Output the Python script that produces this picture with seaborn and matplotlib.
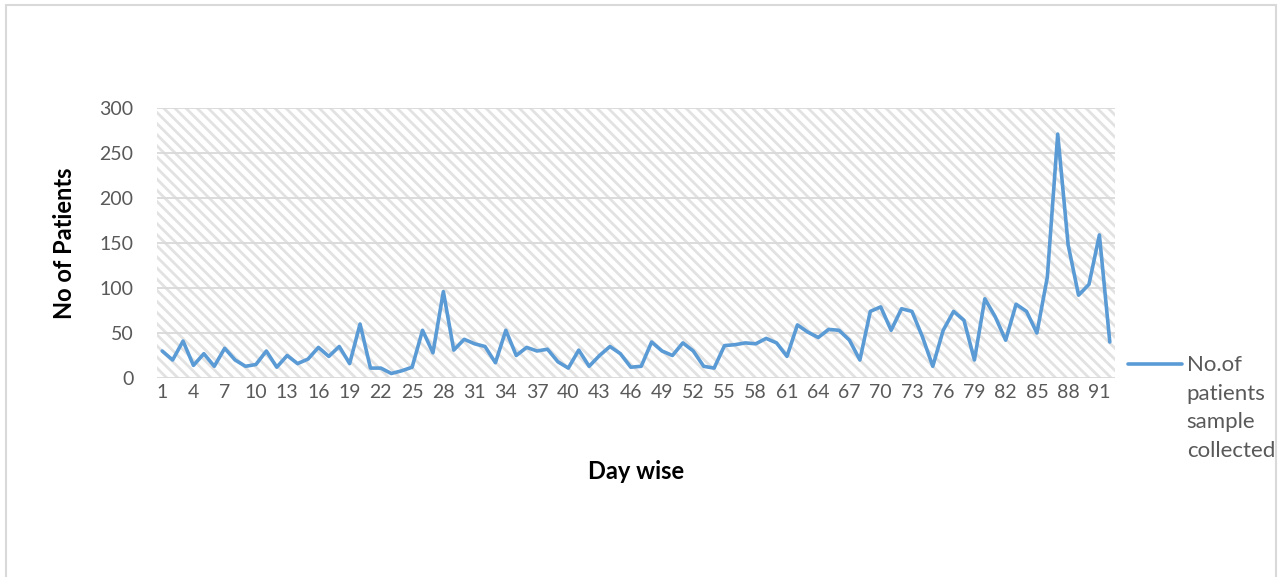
import matplotlib
matplotlib.use("Agg")
import matplotlib.pyplot as plt
from matplotlib.patches import Rectangle
import seaborn as sns
import pandas as pd
import numpy as np

# Daily count of patients whose samples were collected
days = list(range(1, 93))
patients = [
    30, 20, 41, 14, 27, 13, 33, 20, 13, 15,
    30, 12, 25, 16, 21, 34, 24, 35, 16, 60,
    11, 11, 5, 8, 12, 53, 28, 96, 31, 43,
    38, 35, 17, 53, 25, 34, 30, 32, 18, 11,
    31, 13, 25, 35, 27, 12, 13, 40, 30, 25,
    39, 30, 13, 11, 36, 37, 39, 38, 44, 39,
    24, 59, 51, 45, 54, 53, 42, 20, 74, 79,
    53, 77, 74, 46, 13, 53, 74, 64, 20, 88,
    68, 42, 82, 74, 50, 112, 271, 148, 92, 104,
    159, 40,
]
xtick_labels = [str(d) for d in range(1, 93, 3)]
y_ticks = [0, 50, 100, 150, 200, 250, 300]
series_name = "No.of\npatients\nsample\ncollected"

df = pd.DataFrame({"Day": days, "Patients": patients})

sns.set_theme(style="white")
plt.rcParams["font.family"] = ["Lato", "DejaVu Sans"]
plt.rcParams["hatch.color"] = "#e2e2e2"
plt.rcParams["hatch.linewidth"] = 2.0

fig = plt.figure(figsize=(12.82, 5.77), dpi=100)
ax = fig.add_axes([157 / 1282, 1 - 378 / 577, (1115 - 157) / 1282, (378 - 108) / 577])

# hatched plot area background
ax.add_patch(Rectangle((0, 0), 1, 1, transform=ax.transAxes, facecolor="white",
                       edgecolor="#e2e2e2", hatch="\\\\\\", linewidth=0, zorder=0))

for yv in y_ticks:
    ax.axhline(yv, color="#d9d9d9", linewidth=1.3, zorder=1)

sns.lineplot(data=df, x="Day", y="Patients", ax=ax, color="#5B9BD5",
             linewidth=2.6, label=series_name, zorder=3)

ax.set_xlim(0.5, 92.5)
ax.set_ylim(0, 300)
ax.set_yticks(y_ticks)
ax.set_xticks(range(1, 93, 3))
ax.set_xticklabels(xtick_labels)
for s in ax.spines.values():
    s.set_visible(False)
ax.tick_params(axis="both", length=0, labelsize=14, labelcolor="#595959")
ax.tick_params(axis="x", pad=4)
ax.tick_params(axis="y", pad=17)

ax.set_xlabel("Day wise", fontsize=17, fontweight="bold", color="black", labelpad=43)
ax.set_ylabel("No of Patients", fontsize=17, fontweight="bold", color="black", labelpad=17)

leg_fs = 16
line_pitch_px = 29.3
leg = ax.legend(loc="upper left", bbox_to_anchor=(1119 / 1282, 1 - 346 / 577),
                bbox_transform=fig.transFigure, frameon=False, fontsize=leg_fs,
                handlelength=2.45, handletextpad=0.2, borderaxespad=0)
for t in leg.get_texts():
    t.set_color("#595959")
    t.set_linespacing(1.54)
# put the legend line beside the first line of the label
for h in leg.legend_handles:
    y = np.asarray(h.get_ydata(), dtype=float)
    h.set_ydata(y + 1.5 * line_pitch_px * 72 / fig.dpi)

# outer chart border
fig.patches.append(Rectangle((6 / 1282, -0.05), 1270 / 1282, 1.05 - 5 / 577,
                             transform=fig.transFigure, fill=False,
                             edgecolor="#d9d9d9", linewidth=1.5))

fig.savefig("out.png", dpi=100)
